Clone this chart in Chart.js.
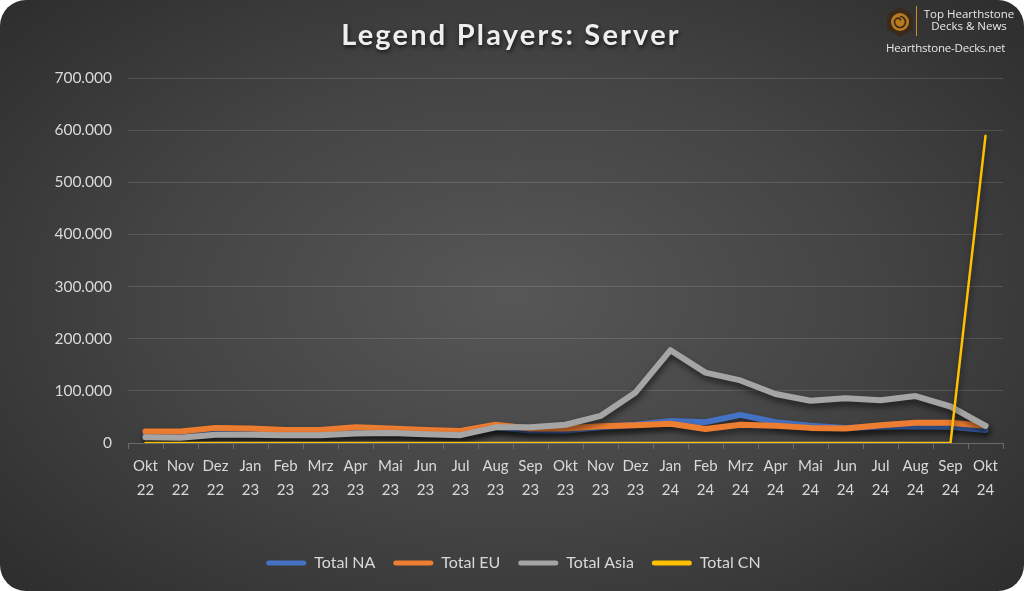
<!DOCTYPE html>
<html><head><meta charset="utf-8">
<script src="https://cdn.jsdelivr.net/npm/chart.js@4.4.1/dist/chart.umd.min.js"></script>
<style>
html,body{margin:0;padding:0;background:#fff;}
#wrap{position:relative;width:1024px;height:591px;border-radius:26px;overflow:hidden;
background:radial-gradient(ellipse 70% 75% at 50% 50%, #575757 0%, #444 50%, #2c2c2c 100%);}
canvas{position:absolute;left:0;top:0;}
#logo{position:absolute;left:884px;top:4px;width:136px;height:56px;font-family:"Open Sans",sans-serif;color:#e8e8e8;}
#logo .t1{position:absolute;left:36px;top:4px;font-size:11.5px;line-height:12px;text-align:center;width:98px;}
#logo .t2{position:absolute;left:2px;top:36px;font-size:11.5px;letter-spacing:-0.2px;}
#logo .bar{position:absolute;left:32px;top:2px;width:1px;height:30px;background:#c8901e;}
</style></head>
<body>
<div id="wrap">
<canvas id="c" width="1024" height="591"></canvas>
<div id="logo">
<svg style="position:absolute;left:2px;top:2px" width="28" height="32" viewBox="0 0 28 32">
<polygon points="14,1 27,8.5 27,23.5 14,31 1,23.5 1,8.5" fill="#3a2a1c"/>
<circle cx="14" cy="16" r="9" fill="#b97a20"/>
<path d="M14 10.5 a5.5 5.5 0 1 1 -5.5 5.5 a3.8 3.8 0 0 1 3.8 -3.8 a2.2 2.2 0 0 1 2.2 2.2" fill="none" stroke="#3a2a1c" stroke-width="1.7"/>
</svg>
<div class="bar"></div>
<div class="t1">Top Hearthstone<br>Decks &amp; News</div>
<div class="t2">Hearthstone-Decks.net</div>
</div>
</div>
<script>
const months = ["Okt","Nov","Dez","Jan","Feb","Mrz","Apr","Mai","Jun","Jul","Aug","Sep","Okt","Nov","Dez","Jan","Feb","Mrz","Apr","Mai","Jun","Jul","Aug","Sep","Okt"];
const years  = ["22","22","22","23","23","23","23","23","23","23","23","23","23","23","23","24","24","24","24","24","24","24","24","24","24"];
const totalNA   = [16000,16000,22000,22000,20000,19000,22000,22000,20000,18000,30000,24000,24000,30000,35000,42000,40000,54000,40000,33000,29000,31000,32000,31000,25000];
const totalEU   = [22000,22000,29000,28000,25000,25000,30000,28000,25000,23000,35000,28000,28000,32000,34000,37000,27000,35000,33000,29000,28000,34000,39000,39000,33000];
const totalAsia = [11000,10000,16000,16000,15000,15000,18000,19000,17000,15000,30000,30000,35000,52000,97000,178000,135000,120000,94000,81000,86000,82000,90000,70000,33000];
const totalCN   = [0,0,0,0,0,0,0,0,0,0,0,0,0,0,0,0,0,0,0,0,0,0,0,0,589000];
const yMax = 700000, yStep = 100000;
const chartTitle = "Legend Players: Server";

const labels = months.map((m,i)=>[m, years[i]]);
function fmt(v){return String(v).replace(/\B(?=(\d{3})+(?!\d))/g,'.');}

const shadowPlugin = {
  id:'shadow',
  beforeDatasetDraw(chart,args){const ctx=chart.ctx;ctx.save();ctx.shadowColor='rgba(0,0,0,0.55)';ctx.shadowBlur=6;ctx.shadowOffsetX=1;ctx.shadowOffsetY=4;},
  afterDatasetDraw(chart){chart.ctx.restore();}
};
const titlePlugin = {
  id:'ttl',
  afterDraw(chart){const ctx=chart.ctx;ctx.save();ctx.font='bold 29px Lato';ctx.letterSpacing='2.2px';ctx.fillStyle='#eeeeee';ctx.textAlign='center';ctx.textBaseline='middle';
    ctx.shadowColor='rgba(0,0,0,0.7)';ctx.shadowBlur=4;ctx.shadowOffsetX=1;ctx.shadowOffsetY=2;ctx.fillText(chartTitle,511,36);ctx.restore();}
};

function ds(label,data,color,w,order){return {label,data,borderColor:color,backgroundColor:color,borderWidth:w,pointRadius:0,tension:0,borderJoinStyle:'round',borderCapStyle:'round',order};}

new Chart(document.getElementById('c'),{
  type:'line',
  data:{labels,datasets:[
    ds('Total NA',totalNA,'#4472C4',6,3),
    ds('Total EU',totalEU,'#ED7D31',6,2),
    ds('Total Asia',totalAsia,'#A5A5A5',6,1),
    ds('Total CN',totalCN,'#FFC000',2.5,0)
  ]},
  options:{
    responsive:false,animation:false,
    layout:{padding:{top:78,right:21,bottom:10,left:24}},
    plugins:{
      title:{display:false},tooltip:{enabled:false},
      legend:{position:'bottom',
        labels:{color:'#d9d9d9',font:{family:'Lato',size:16},boxWidth:40,boxHeight:5,padding:18,
          sort:(a,b)=>a.datasetIndex-b.datasetIndex,
          generateLabels(chart){return chart.data.datasets.map((d,i)=>({text:d.label,fillStyle:d.borderColor,strokeStyle:d.borderColor,lineWidth:0,hidden:false,datasetIndex:i,fontColor:'#d9d9d9',borderRadius:2.5}));},
          useBorderRadius:true,borderRadius:2.5}}
    },
    scales:{
      x:{offset:true,
        grid:{offset:true,drawOnChartArea:false,drawTicks:true,tickLength:6,color:'#6a6a6a'},
        border:{display:true,color:'#6a6a6a',width:1},
        ticks:{color:'#d9d9d9',font:{family:'Lato',size:15,lineHeight:1.55},maxRotation:0,autoSkip:false,padding:6},
        afterFit(s){s.height=94;}
      },
      y:{min:0,max:yMax,
        grid:{color:'rgba(255,255,255,0.13)',drawTicks:false,lineWidth:1},
        border:{display:false},
        ticks:{stepSize:yStep,color:'#d9d9d9',font:{family:'Lato',size:15.5},padding:16,callback:v=>fmt(v)},
        afterFit(s){s.width=104;}
      }
    }
  },
  plugins:[shadowPlugin,titlePlugin]
});
</script>
</body></html>
